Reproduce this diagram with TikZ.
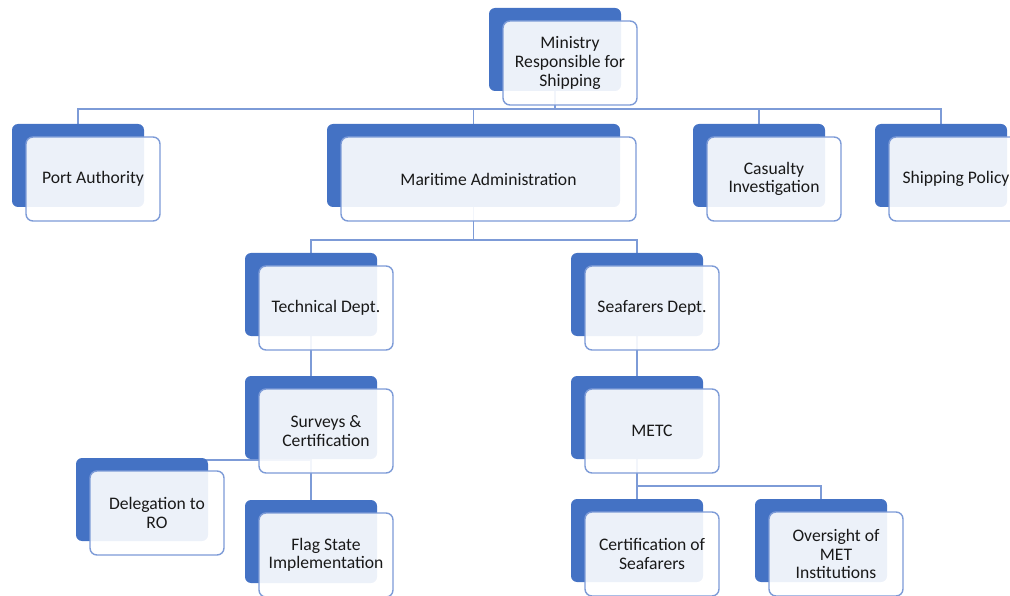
\documentclass[tikz,border=0pt]{standalone}
\usepackage{fontspec}
\setmainfont{Carlito}
\usetikzlibrary{backgrounds}
\definecolor{backblue}{RGB}{68,114,196}
\definecolor{edgeblue}{RGB}{125,155,215}
\definecolor{txt}{RGB}{25,25,25}
\tikzset{
  backbox/.style={fill=backblue, rounded corners=6pt, anchor=north west, inner sep=0pt, outer sep=0pt, minimum height=83pt},
  frontbox/.style={draw=edgeblue, line width=1.4pt, fill=white, fill opacity=0.9, text opacity=1, rounded corners=7pt, anchor=north west, inner sep=0pt, outer sep=0pt, minimum height=84pt, align=center, font=\fontsize{17.6}{18.6}\selectfont, text=txt},
  conn/.style={draw=edgeblue, line width=1.3pt}
}
\newcommand\orgbox[5]{%
  \node[backbox, minimum width=#4pt] (#1b) at (#2,#3) {};
  \node[frontbox, minimum width=#4pt+2pt] (#1) at (#2+14,#3+13) {#5};}
\begin{document}
\begin{tikzpicture}[x=1pt,y=-1pt]
\useasboundingbox (0,0) rectangle (1010,596);
\clip (0,0) rectangle (1010,596);
\orgbox{min}{489}{8}{132}{Ministry\\Responsible for\\Shipping}
\orgbox{pa}{12}{124}{132}{Port Authority}
\orgbox{mar}{327}{124}{293}{Maritime Administration}
\orgbox{cas}{693}{124}{132}{Casualty\\Investigation}
\orgbox{ship}{875}{124}{132}{Shipping Policy}
\orgbox{tech}{245}{253}{132}{Technical Dept.}
\orgbox{sea}{571}{253}{132}{Seafarers Dept.}
\orgbox{surv}{245}{376}{132}{Surveys \&\\Certification}
\orgbox{metc}{571}{376}{132}{METC}
\orgbox{del}{76}{458}{132}{Delegation to\\RO}
\orgbox{flag}{245}{500}{132}{Flag State\\Implementation}
\orgbox{cert}{571}{499}{132}{Certification of\\Seafarers}
\orgbox{over}{755}{499}{132}{Oversight of\\MET\\Institutions}
\coordinate (bus1) at (0,109);
\coordinate (bus2) at (0,240);
\coordinate (bus3) at (0,460);
\coordinate (bus4) at (0,486);
\begin{scope}[on background layer]
\draw[conn] (minb.center) -- (minb |- bus1);
\draw[conn] (pab.center) -- (pab |- bus1) -- (shipb |- bus1) -- (shipb.center);
\draw[conn] (marb |- bus1) -- (marb.center);
\draw[conn] (casb |- bus1) -- (casb.center);
\draw[conn] (marb.center) -- (marb |- bus2);
\draw[conn] (techb.center) -- (techb |- bus2) -- (seab |- bus2) -- (seab.center);
\draw[conn] (techb.center) -- (survb.center);
\draw[conn] (survb.center) -- (flagb.center);
\draw[conn] (survb |- bus3) -- (delb |- bus3) -- (delb.center);
\draw[conn] (seab.center) -- (metcb.center);
\draw[conn] (metcb.center) -- (metcb |- bus4);
\draw[conn] (certb.center) -- (certb |- bus4) -- (overb |- bus4) -- (overb.center);
\end{scope}
\end{tikzpicture}
\end{document}
